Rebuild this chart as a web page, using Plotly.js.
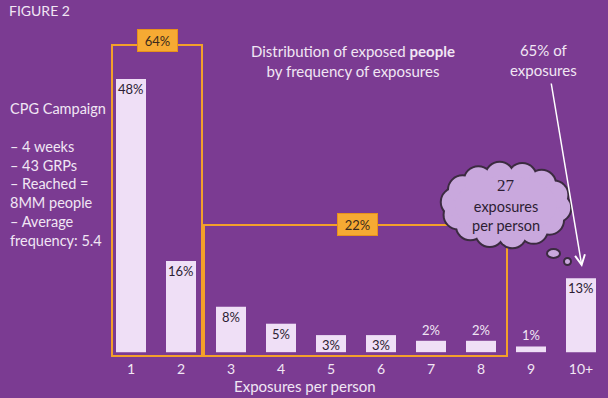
<!DOCTYPE html>
<html>
<head>
<meta charset="utf-8">
<script src="https://cdn.plot.ly/plotly-3.0.1.min.js"></script>
<style>html,body{margin:0;padding:0;background:#7b3b92;}</style>
</head>
<body>
<div id="chart" style="width:608px;height:398px;"></div>
<script>
// ---- data ----
const categories = ['1','2','3','4','5','6','7','8','9','10+'];
const sharePct   = [48, 16, 8, 5, 3, 3, 2, 2, 1, 13];
const labelText  = ['48%','16%','8%','5%','3%','3%','2%','2%','1%','13%'];
const labelInside = [true, true, true, true, true, true, false, false, false, true];
const groupLabels = ['64%', '22%'];
const xTitle = 'Exposures per person';

// ---- styling ----
const BG = '#7b3b92';
const BAR = '#efdff6';
const ORANGE = '#f3a02a';
const LIGHT = '#f1e6f4';
const DARK = '#2d1d33';
const FONT = 'Lato, "Open Sans", sans-serif';

// pixel -> paper helpers for decorations
const L = 106, R = 606, T = 42, B = 359;
const px = x => (x - L) / (R - L);
const py = y => (B - y) / (B - T);

const trace = {
  type: 'bar',
  x: categories,
  y: sharePct,
  marker: {color: BAR, line: {width: 0}},
  hoverinfo: 'skip'
};

const annotations = [];
categories.forEach((c, i) => {
  const inside = labelInside[i];
  annotations.push({
    x: i, y: sharePct[i], xref: 'x', yref: 'y',
    xanchor: 'center',
    text: labelText[i], showarrow: false,
    yanchor: inside ? 'top' : 'bottom',
    yshift: inside ? 0 : 1,
    font: {family: FONT, size: 13, color: inside ? DARK : LIGHT}
  });
});

// group labels
annotations.push({
  xref: 'paper', yref: 'paper', x: px(157.5), y: py(40.5),
  xanchor: 'center', yanchor: 'middle',
  text: groupLabels[0], showarrow: false,
  bgcolor: '#f6aa33', bordercolor: '#e8901c', borderwidth: 1,
  width: 37, height: 19, borderpad: 1,
  font: {family: FONT, size: 13, color: '#3b2a1c'}
});
annotations.push({
  xref: 'paper', yref: 'paper', x: px(357.5), y: py(224.5),
  xanchor: 'center', yanchor: 'middle',
  text: groupLabels[1], showarrow: false,
  bgcolor: '#f6aa33', bordercolor: '#e8901c', borderwidth: 1,
  width: 37, height: 19, borderpad: 1,
  font: {family: FONT, size: 13, color: '#3b2a1c'}
});

// axis title
annotations.push({
  xref: 'paper', yref: 'paper', x: px(305), y: py(386),
  xanchor: 'center', yanchor: 'middle', showarrow: false,
  text: xTitle, font: {family: FONT, size: 15, color: LIGHT}
});

// texts
annotations.push({
  xref: 'paper', yref: 'paper', x: px(7), y: py(11),
  xanchor: 'left', yanchor: 'middle', showarrow: false,
  text: 'FIGURE 2', font: {family: FONT, size: 14, color: LIGHT}
});
annotations.push({
  xref: 'paper', yref: 'paper', x: px(8), y: py(98),
  xanchor: 'left', yanchor: 'top', showarrow: false, align: 'left',
  text: 'CPG Campaign<br><br>– 4 weeks<br>– 43 GRPs<br>– Reached =<br>8MM people<br>– Average<br>frequency: 5.4',
  font: {family: FONT, size: 14.5, color: LIGHT}
});
annotations.push({
  xref: 'paper', yref: 'paper', x: px(353), y: py(61),
  xanchor: 'center', yanchor: 'middle', showarrow: false, align: 'center',
  text: 'Distribution of exposed <b>people</b><br>by frequency of exposures',
  font: {family: FONT, size: 15, color: LIGHT}
});
annotations.push({
  xref: 'paper', yref: 'paper', x: px(543), y: py(59.5),
  xanchor: 'center', yanchor: 'middle', showarrow: false, align: 'center',
  text: '65% of<br>exposures',
  font: {family: FONT, size: 15, color: LIGHT}
});
// arrow
annotations.push({
  xref: 'paper', yref: 'paper', x: px(582), y: py(267),
  ax: -31, ay: -185, text: '', showarrow: true,
  arrowcolor: '#ffffff', arrowwidth: 1.5, arrowhead: 5, arrowsize: 1.3, standoff: 0
});
// cloud text
annotations.push({
  xref: 'paper', yref: 'paper', x: px(506), y: py(186),
  xanchor: 'center', yanchor: 'middle',
  showarrow: false, text: '27',
  font: {family: '"Liberation Serif", serif', size: 17, color: DARK}
});
annotations.push({
  xref: 'paper', yref: 'paper', x: px(506), y: py(216),
  xanchor: 'center', yanchor: 'middle',
  showarrow: false, align: 'center', text: 'exposures<br>per person',
  font: {family: FONT, size: 14.5, color: DARK}
});

// shapes
const shapes = [];
// group boxes
shapes.push({type: 'rect', xref: 'paper', yref: 'paper',
  x0: px(112), x1: px(202), y0: py(356), y1: py(45),
  line: {color: ORANGE, width: 2}, fillcolor: 'rgba(0,0,0,0)'});
shapes.push({type: 'rect', xref: 'paper', yref: 'paper',
  x0: px(204), x1: px(507), y0: py(356), y1: py(225),
  line: {color: ORANGE, width: 2}, fillcolor: 'rgba(0,0,0,0)'});

// cloud
const CLOUD = '#c9a8dd';
const OUT = '#3b2b40';
const ccx = 506, ccy = 205, ea = 51, eb = 29, cr = 14, N = 14;
function circ(cx, cy, r, fill, line) {
  return {type: 'circle', xref: 'paper', yref: 'paper',
    x0: px(cx - r), x1: px(cx + r), y0: py(cy + r), y1: py(cy - r),
    fillcolor: fill, line: line};
}
const bumps = [];
for (let k = 0; k < N; k++) {
  const a = 2 * Math.PI * k / N + 0.1;
  bumps.push([ccx + ea * Math.cos(a), ccy + eb * Math.sin(a)]);
}
bumps.forEach(b => shapes.push(circ(b[0], b[1], cr, CLOUD, {color: OUT, width: 3})));
bumps.forEach(b => shapes.push(circ(b[0], b[1], cr - 0.5, CLOUD, {width: 0})));
shapes.push({type: 'circle', xref: 'paper', yref: 'paper',
  x0: px(ccx - ea), x1: px(ccx + ea), y0: py(ccy + eb), y1: py(ccy - eb),
  fillcolor: CLOUD, line: {width: 0}});
// thought bubbles
shapes.push({type: 'circle', xref: 'paper', yref: 'paper',
  x0: px(547), x1: px(560), y0: py(258), y1: py(249),
  fillcolor: CLOUD, line: {color: OUT, width: 2}});
shapes.push({type: 'circle', xref: 'paper', yref: 'paper',
  x0: px(564), x1: px(571), y0: py(265), y1: py(258),
  fillcolor: CLOUD, line: {color: OUT, width: 2}});

const layout = {
  width: 608, height: 398,
  margin: {l: L, r: 608 - R, t: T, b: 398 - B},
  paper_bgcolor: BG, plot_bgcolor: BG,
  showlegend: false,
  bargap: 0.4,
  xaxis: {
    type: 'category', range: [-0.5, 9.5],
    showgrid: false, zeroline: false, showline: false, ticks: '',
    tickfont: {family: FONT, size: 14, color: LIGHT},
    fixedrange: true
  },
  yaxis: {
    visible: false, range: [-1.2, 54.5], fixedrange: true
  },
  annotations: annotations,
  shapes: shapes
};

Plotly.newPlot('chart', [trace], layout, {displayModeBar: false, staticPlot: true});
</script>
</body>
</html>
